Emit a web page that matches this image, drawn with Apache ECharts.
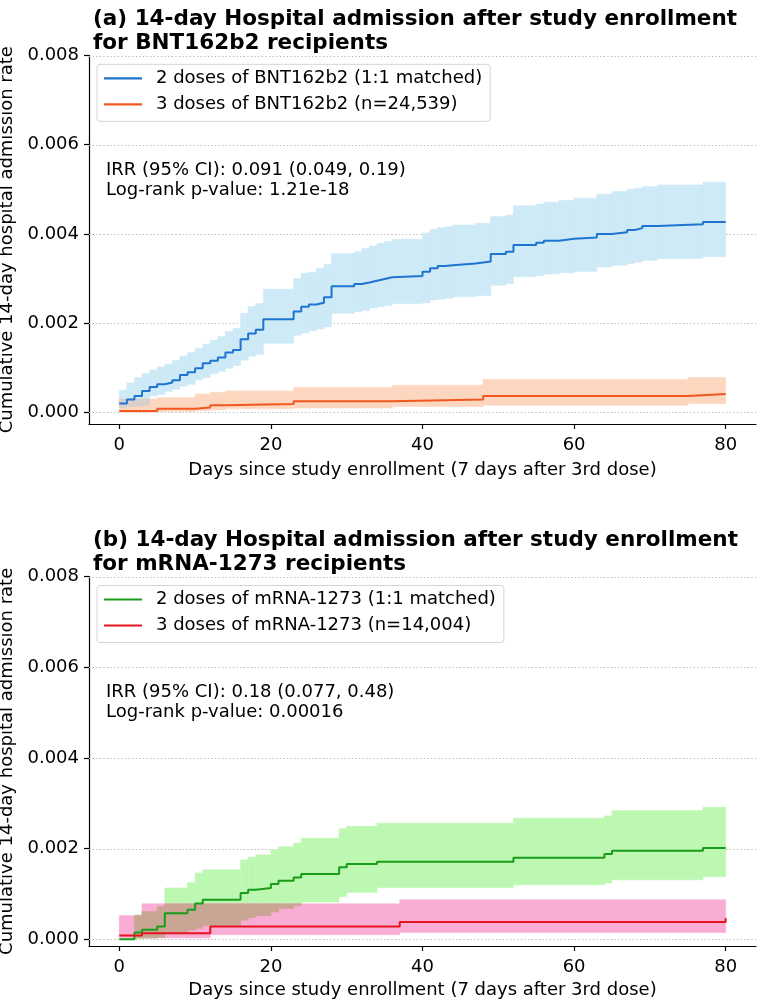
<!DOCTYPE html>
<html><head><meta charset="utf-8">
<script src="https://cdn.jsdelivr.net/npm/echarts@6/dist/echarts.min.js"></script>
<style>html,body{margin:0;padding:0;background:#fff}#chart{width:760px;height:1001px}</style>
</head><body><div id="chart"></div>
<script>
// ---------- data ----------
const xTicks = [0, 20, 40, 60, 80];
const yTicks = [0, 0.002, 0.004, 0.006, 0.008];

const titleA = '(a) 14-day Hospital admission after study enrollment\nfor BNT162b2 recipients';
const titleB = '(b) 14-day Hospital admission after study enrollment\nfor mRNA-1273 recipients';
const xName = 'Days since study enrollment (7 days after 3rd dose)';
const yName = 'Cumulative 14-day hospital admission rate';
const noteA = 'IRR (95% CI): 0.091 (0.049, 0.19)\nLog-rank p-value: 1.21e-18';
const noteB = 'IRR (95% CI): 0.18 (0.077, 0.48)\nLog-rank p-value: 0.00016';

const nameA2 = '2 doses of BNT162b2 (1:1 matched)';
const nameA3 = '3 doses of BNT162b2 (n=24,539)';
const nameB2 = '2 doses of mRNA-1273 (1:1 matched)';
const nameB3 = '3 doses of mRNA-1273 (n=14,004)';

// panel a, 2 doses (step start days, rate, CI low, CI high)
const a2Days = [0,1,2,3,4,5,6,7,8,9,10,11,12,13,14,15,16,17,18,19,23,24,25,26,27,28,31,32,33,34,35,36,40,41,42,43,44,47,49,51,52,55,56,58,60,63,65,67,68,69,71,77,80];
const a2Rate = [0.0002,0.00029,0.00037,0.00048,0.00057,0.00063,0.00067,0.00072,0.00084,0.0009,0.00099,0.0011,0.00116,0.00123,0.00134,0.0014,0.00164,0.00177,0.00185,0.00209,0.00226,0.00237,0.00242,0.00246,0.00258,0.00283,0.00288,0.00291,0.00295,0.00299,0.00303,0.00306,0.00315,0.00323,0.00328,0.0033,0.00334,0.00338,0.00355,0.0036,0.00375,0.0038,0.00385,0.00389,0.00392,0.004,0.00404,0.00409,0.00413,0.00418,0.00422,0.00427,0.00427];
const a2Lo = [0.00011,0.00013,0.00014,0.00016,0.00037,0.0004,0.00047,0.00052,0.00059,0.00063,0.00073,0.00078,0.00087,0.00092,0.00099,0.00105,0.00117,0.00126,0.0013,0.00155,0.00173,0.00178,0.00183,0.00187,0.00192,0.00222,0.00226,0.00229,0.00234,0.00237,0.0024,0.00244,0.00246,0.00252,0.00254,0.00256,0.00259,0.00262,0.00285,0.00289,0.00304,0.00307,0.0031,0.00313,0.00316,0.00326,0.0033,0.00334,0.00337,0.00341,0.00345,0.00349,0.00349];
const a2Hi = [0.0005,0.00066,0.00078,0.00087,0.00095,0.00102,0.00108,0.00116,0.00126,0.00134,0.00143,0.00153,0.00162,0.0017,0.00181,0.00188,0.00222,0.00237,0.00244,0.00276,0.003,0.00312,0.00314,0.00323,0.00332,0.00356,0.0036,0.00368,0.00373,0.00379,0.00383,0.00388,0.00402,0.0041,0.00414,0.00416,0.0042,0.00424,0.00439,0.00442,0.00463,0.00467,0.00471,0.00475,0.0048,0.00489,0.00495,0.005,0.00502,0.00506,0.0051,0.00516,0.00516];

// panel a, 3 doses
const a3Days = [0,5,10,12,14,23,36,48,75,80];
const a3Rate = [0.00003,0.00008,0.00011,0.00016,0.00019,0.00025,0.00029,0.00037,0.00041,0.00041];
const a3Lo = [0.000005,0.00002,0.00004,0.00006,0.00008,0.0001,0.00013,0.00016,0.0002,0.0002];
const a3Hi = [0.0003,0.00033,0.00041,0.00045,0.00048,0.00056,0.00061,0.00074,0.00078,0.00078];

// panel b, 2 doses
const b2Days = [0,2,3,5,6,9,10,11,16,17,18,20,21,23,24,29,30,34,52,64,65,77,80];
const b2Rate = [0,0.00015,0.00021,0.00028,0.00057,0.00065,0.00079,0.00087,0.00102,0.00109,0.00113,0.00122,0.00129,0.00136,0.00144,0.00159,0.00166,0.00171,0.0018,0.00188,0.00195,0.00201,0.00201];
const b2Lo = [0,0.00001,0.00002,0.00004,0.00015,0.0002,0.00024,0.0003,0.00042,0.00048,0.00052,0.0006,0.00068,0.00074,0.00082,0.00094,0.00103,0.00114,0.0012,0.00124,0.00131,0.00138,0.00138];
const b2Hi = [0,0.00054,0.00061,0.00072,0.00113,0.00125,0.00146,0.00153,0.00175,0.00181,0.00186,0.00197,0.00204,0.00212,0.00223,0.00244,0.00249,0.00256,0.00267,0.00272,0.00284,0.00291,0.00291];

// panel b, 3 doses
const b3Days = [0,3,12,37,80];
const b3Rate = [0.00008,0.00013,0.00028,0.00038,0.00046];
const b3Lo = [0.00003,0.00003,0.0001,0.00015,0.00015];
const b3Hi = [0.00052,0.00078,0.00078,0.00087,0.00098];

// ---------- helpers ----------
const FONT = 'DejaVu Sans';
const FS = 18;
function segs(xs, lo, hi) {
  const out = [];
  for (let i = 0; i < xs.length - 1; i++) if (hi[i] > lo[i]) out.push([xs[i], xs[i+1], lo[i], hi[i]]);
  return out;
}
function stepAt(xs, v, x) { let k = 0; for (let i = 0; i < xs.length; i++) if (xs[i] <= x) k = i; return v[k]; }
function overlap(xA, loA, hiA, xB, loB, hiB) {
  const end = Math.min(xA[xA.length-1], xB[xB.length-1]);
  const bps = Array.from(new Set(xA.concat(xB))).filter(v => v <= end).sort((p, q) => p - q);
  const out = [];
  for (let k = 0; k < bps.length - 1; k++) {
    const x = bps[k];
    const lo = Math.max(stepAt(xA, loA, x), stepAt(xB, loB, x));
    const hi = Math.min(stepAt(xA, hiA, x), stepAt(xB, hiB, x));
    if (hi > lo) out.push([x, bps[k+1], lo, hi]);
  }
  return out;
}
function bandSeries(gi, data, color, z) {
  return {
    type: 'custom', xAxisIndex: gi, yAxisIndex: gi, z: z, silent: true,
    encode: { x: [0, 1], y: [2, 3] },
    data: data,
    renderItem: function (params, api) {
      const p0 = api.coord([api.value(0), api.value(3)]);
      const p1 = api.coord([api.value(1), api.value(2)]);
      return { type: 'rect', shape: { x: p0[0], y: p0[1], width: p1[0] - p0[0], height: p1[1] - p0[1] },
               style: { fill: color, stroke: color, lineWidth: 0.6 } };
    }
  };
}
function lineSeries(gi, name, xs, ys, color, z) {
  return {
    type: 'line', name: name, xAxisIndex: gi, yAxisIndex: gi, step: 'end', z: z,
    showSymbol: false, symbol: 'none', silent: true,
    data: xs.map((d, i) => [d, ys[i]]),
    itemStyle: { color: color }, lineStyle: { color: color, width: 2 }
  };
}
function gridSeries(gi) {
  return {
    type: 'custom', xAxisIndex: gi, yAxisIndex: gi, z: 1, silent: true,
    encode: { x: 0, y: 1 },
    data: yTicks.map(v => [0, v]),
    renderItem: function (params, api) {
      const y = Math.round(api.coord([0, api.value(1)])[1]) + 0.5;
      const cs = params.coordSys;
      return { type: 'line', shape: { x1: cs.x, y1: y, x2: cs.x + cs.width, y2: y },
               style: { stroke: '#b0b0b0', lineWidth: 1, lineDash: [1.2, 2.4] } };
    }
  };
}
function xAxisCfg(gi, gap) {
  return {
    gridIndex: gi, type: 'value', min: -4, max: 84,
    name: xName, nameLocation: 'middle', nameGap: gap,
    nameTextStyle: { fontFamily: FONT, fontSize: FS, color: '#000' },
    axisLine: { show: true, onZero: false, lineStyle: { color: '#000', width: 1.2 } },
    axisTick: { show: true, customValues: xTicks, length: 5, lineStyle: { color: '#000', width: 1.2 } },
    axisLabel: { customValues: xTicks, fontFamily: FONT, fontSize: FS, color: '#000', margin: 12 },
    splitLine: { show: false }
  };
}
function yAxisCfg(gi, min) {
  return {
    gridIndex: gi, type: 'value', min: min, max: 0.008,
    name: yName, nameLocation: 'middle', nameGap: 65,
    nameTextStyle: { fontFamily: FONT, fontSize: FS, color: '#000' },
    axisLine: { show: true, onZero: false, lineStyle: { color: '#000', width: 1.2 } },
    axisTick: { show: true, customValues: yTicks, length: 5, lineStyle: { color: '#000', width: 1.2 } },
    axisLabel: { customValues: yTicks, fontFamily: FONT, fontSize: FS, color: '#000', margin: 10,
                 formatter: v => v.toFixed(3) },
    splitLine: { show: false }
  };
}
function legendCfg(top, names) {
  return {
    data: names, orient: 'vertical', left: 97, top: top, selectedMode: false,
    icon: 'rect', itemWidth: 38, itemHeight: 2.2, itemGap: 6,
    padding: [4, 8, 7, 7], borderColor: '#d4d4d4', borderWidth: 1, borderRadius: 3,
    backgroundColor: '#ffffff',
    textStyle: { fontFamily: FONT, fontSize: FS, color: '#000', lineHeight: 20, padding: [0, 0, 0, 9] }
  };
}
function titleCfg(text, top) {
  return { text: text, left: 88, top: top,
    textStyle: { fontFamily: FONT, fontSize: 21.5, fontWeight: 'bold', color: '#000', lineHeight: 24 } };
}

const chart = echarts.init(document.getElementById('chart'), null, { renderer: 'canvas' });
chart.setOption({
  animation: false,
  backgroundColor: '#fff',
  title: [titleCfg(titleA, 2), titleCfg(titleB, 523)],
  grid: [
    { left: 89, top: 55.5, width: 667, height: 368.5, containLabel: false, outerBoundsMode: 'none' },
    { left: 89, top: 576.7, width: 667, height: 369.3, containLabel: false, outerBoundsMode: 'none' }
  ],
  xAxis: [xAxisCfg(0, 37), xAxisCfg(1, 35)],
  yAxis: [yAxisCfg(0, -0.00026), yAxisCfg(1, -0.00015)],
  legend: [legendCfg(64.3, [nameA2, nameA3]), legendCfg(585.5, [nameB2, nameB3])],
  graphic: [
    { type: 'text', left: 106, top: 161, style: { text: noteA, font: FS + 'px "DejaVu Sans"', fill: '#000', lineHeight: 19.5 } },
    { type: 'text', left: 106, top: 682.7, style: { text: noteB, font: FS + 'px "DejaVu Sans"', fill: '#000', lineHeight: 19.5 } }
  ],
  series: [
    gridSeries(0),
    bandSeries(0, segs(a2Days, a2Lo, a2Hi), '#cdeaf6', 2),
    bandSeries(0, segs(a3Days, a3Lo, a3Hi), '#fdd6bf', 2),
    bandSeries(0, overlap(a2Days, a2Lo, a2Hi, a3Days, a3Lo, a3Hi), '#d8d0cb', 3),
    lineSeries(0, nameA2, a2Days, a2Rate, '#1e74d0', 5),
    lineSeries(0, nameA3, a3Days, a3Rate, '#f0581f', 6),
    gridSeries(1),
    bandSeries(1, segs(b2Days, b2Lo, b2Hi), '#bdf8b2', 2),
    bandSeries(1, segs(b3Days, b3Lo, b3Hi), '#f9acd4', 2),
    bandSeries(1, overlap(b2Days, b2Lo, b2Hi, b3Days, b3Lo, b3Hi), '#c9a594', 3),
    lineSeries(1, nameB2, b2Days, b2Rate, '#1a9c1a', 5),
    lineSeries(1, nameB3, b3Days, b3Rate, '#e6141e', 6)
  ]
});
</script>
</body></html>
